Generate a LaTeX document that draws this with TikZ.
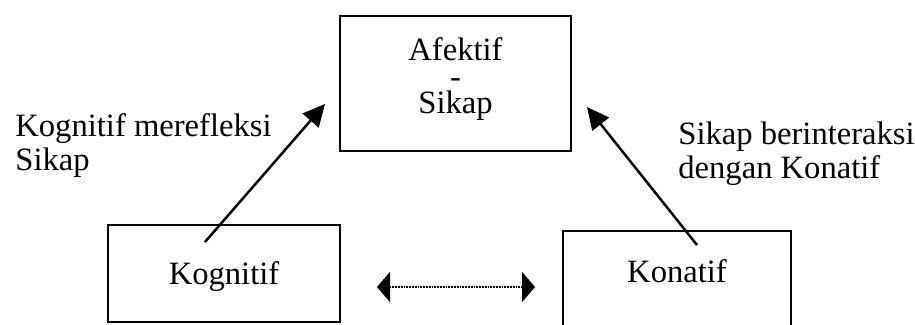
\documentclass[tikz,border=0pt]{standalone}
\usepackage{fontspec}
\setmainfont{Liberation Serif}
\usetikzlibrary{arrows.meta}
\begin{document}
\begin{tikzpicture}[x=0.5pt,y=-0.5pt,
  box/.style={draw,line width=1pt,rectangle,inner sep=0pt},
  txt/.style={font=\fontsize{16.3}{19}\selectfont,inner sep=0pt},
  arr/.style={line width=1.25pt,-{Triangle[length=11pt,width=10.5pt]}},
  dbl/.style={line width=0.9pt,dash pattern=on 0.9pt off 0.5pt,
    {Triangle[length=6.5pt,width=15pt]}-{Triangle[length=6.5pt,width=15pt]}}]
\useasboundingbox (0,0) rectangle (915,325);
% boxes
\node[box,minimum width=115.5pt,minimum height=67.5pt] (afek) at (455.5,83.5) {};
\node[box,minimum width=116pt,minimum height=48.5pt] (kog) at (224,273.5) {};
\node[box,minimum width=114pt,minimum height=52pt] (kon) at (677,283) {};
% box texts
\node[txt,align=center,font=\fontsize{16.3}{13.25}\selectfont] (afekt) at (455.5,79) {Afektif\\-\\Sikap};
\node[txt,anchor=base] (kogt) at (224,285) {Kognitif};
\node[txt,anchor=base] (kont) at (677,283) {Konatif};
% labels
\node[txt,anchor=base west] (l1a) at (15,137) {Kognitif merefleksi};
\node[txt,anchor=base west] (l1b) at (15,171) {Sikap};
\node[txt,anchor=base west] (l2a) at (678,145) {Sikap berinteraksi};
\node[txt,anchor=base west] (l2b) at (678,179) {dengan Konatif};
% connectors
\coordinate (k1) at (205,242);
\coordinate (k2) at (325,104);
\coordinate (n1) at (697,245);
\coordinate (n2) at (587,107);
\coordinate (d1) at (377,287);
\coordinate (d2) at (535,287);
\draw[arr] (k1) -- (k2);
\draw[arr] (n1) -- (n2);
\draw[dbl] (d1) -- (d2);
\end{tikzpicture}
\end{document}
